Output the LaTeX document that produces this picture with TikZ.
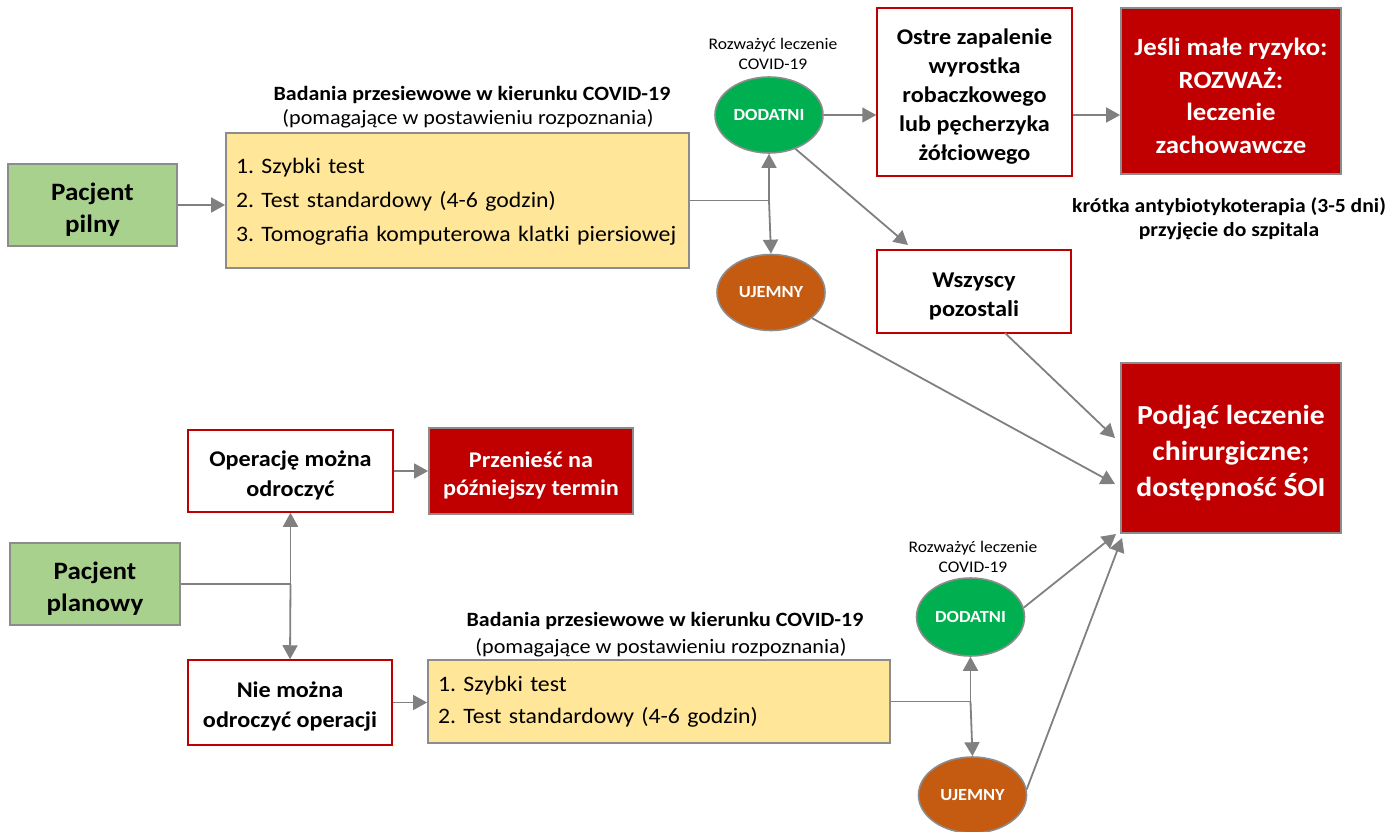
\documentclass[tikz,border=0pt]{standalone}
\usepackage{fontspec}
\setmainfont{Carlito}[FakeStretch=1.08]
\usetikzlibrary{arrows.meta,shapes.geometric,calc}
\definecolor{pgreen}{HTML}{A9D18E}
\definecolor{pyellow}{HTML}{FFE699}
\definecolor{pred}{HTML}{C00000}
\definecolor{pgray}{HTML}{8C8C8C}
\definecolor{agray}{HTML}{808080}
\definecolor{cgreen}{HTML}{00B050}
\definecolor{corange}{HTML}{C55A11}
\newcommand{\fs}[2]{\fontsize{#1}{#2}\selectfont}
\newcommand{\ts}{\rule{0pt}{1.1em}}
\tikzset{
  box/.style={draw=pgray, line width=1.8pt, inner sep=0pt, align=center},
  gbox/.style={box, fill=pgreen, font=\bfseries\fs{25}{32}},
  ybox/.style={box, fill=pyellow, align=left, font=\fs{22}{34}},
  rbox/.style={box, draw=pred, fill=white, line width=1.5pt, font=\bfseries\fs{22.4}{30}},
  dbox/.style={box, fill=pred, text=white, font=\bfseries\fs{24.8}{32.5}},
  oval/.style={ellipse, draw=pgray, line width=1.6pt, inner sep=0pt, minimum width=108pt, minimum height=76pt, text=white, font=\bfseries\fs{17}{20}},
  arr/.style={draw=agray, line width=1.8pt, -{Triangle[length=14pt,width=15pt]}},
  ln/.style={draw=agray, line width=1.8pt},
  lbl/.style={align=center, inner sep=0pt},
  head/.style={lbl, font=\bfseries\fs{20.3}{24}},
  sub/.style={lbl, font=\fs{20.5}{24}},
  small/.style={lbl, font=\fs{16.2}{20}},
}
\begin{document}
\frenchspacing
\begin{tikzpicture}[x=1pt,y=-1pt]
\useasboundingbox (0,0) rectangle (1392,832);
% top part
\node[gbox, minimum width=169pt, minimum height=82pt] (pilny) at (92.5,205) {\ts Pacjent\\pilny};
\node[ybox, minimum width=463pt, minimum height=135pt, text width=443pt] (y1) at (457.5,200.5) {\rule{0pt}{0.85em}1. Szybki test\\2. Test standardowy (4-6 godzin)\\3. Tomografia komputerowa klatki piersiowej};
\node[head] (h1) at (472,95) {Badania przesiewowe w kierunku COVID-19};
\node[sub] (s1) at (468,119) {(pomagające w postawieniu rozpoznania)};
\node[oval, fill=cgreen] (dod1) at (769,115) {DODATNI};
\node[oval, fill=corange] (uje1) at (771,292.5) {UJEMNY};
\node[small] (rz1) at (773,54) {Rozważyć leczenie\\COVID-19};
\node[rbox, minimum width=195pt, minimum height=168pt, font=\bfseries\fs{22.4}{29}] (ostre) at (974.5,92) {\ts Ostre zapalenie\\wyrostka\\robaczkowego\\lub pęcherzyka\\żółciowego};
\node[dbox, minimum width=220pt, minimum height=166pt] (jesli) at (1231,91) {\ts Jeśli małe ryzyko:\\ROZWAŻ:\\leczenie\\zachowawcze};
\node[lbl, font=\bfseries\fs{20}{24}] (kr) at (1229,219) {krótka antybiotykoterapia (3-5 dni)\\przyjęcie do szpitala};
\node[rbox, minimum width=194pt, minimum height=83pt, font=\bfseries\fs{22.6}{29}] (wsz) at (974,291.5) {\ts Wszyscy\\pozostali};
\node[dbox, minimum width=220pt, minimum height=170pt, font=\bfseries\fs{27.5}{36}] (pod) at (1231,448) {\ts Podjąć leczenie\\chirurgiczne;\\dostępność ŚOI};
% top connectors
\draw[arr] (pilny.east) -- (y1.west |- pilny.east);
\coordinate (j1) at (y1.east -| dod1.south);
\draw[ln] (y1.east) -- (j1);
\draw[arr] (j1) -- (dod1.south);
\draw[arr] (j1) -- (uje1.north);
\draw[arr] (dod1.east) -- (ostre.west |- dod1.east);
\draw[arr] (ostre.east |- dod1.east) -- (jesli.west |- dod1.east);
\coordinate (wszin) at (908,245);
\draw[arr] (dod1.-52) -- (wszin);
\coordinate (wszout) at (1005,333);
\coordinate (podin1) at (1115,438);
\coordinate (podin2) at (1115,484);
\draw[arr] (wszout) -- (podin1);
\draw[arr] (uje1.-32) -- (podin2);
% bottom part
\node[rbox, minimum width=205pt, minimum height=82pt] (oper) at (290.5,471) {\ts Operację można\\odroczyć};
\node[dbox, minimum width=204pt, minimum height=86pt, font=\bfseries\fs{22.4}{28}] (prz) at (531,471) {\ts Przenieść na\\późniejszy termin};
\node[gbox, minimum width=170pt, minimum height=82pt] (plan) at (95,584) {\ts Pacjent\\planowy};
\node[rbox, minimum width=204pt, minimum height=85pt] (nie) at (290,702.5) {\ts Nie można\\odroczyć operacji};
\node[ybox, minimum width=462pt, minimum height=83pt, text width=442pt, font=\fs{22}{32}] (y2) at (659,701.5) {1. Szybki test\\2. Test standardowy (4-6 godzin)};
\node[head] (h2) at (665,621) {Badania przesiewowe w kierunku COVID-19};
\node[sub] (s2) at (661,648) {(pomagające w postawieniu rozpoznania)};
\node[oval, fill=cgreen, minimum height=78pt] (dod2) at (970.5,617) {DODATNI};
\node[oval, fill=corange] (uje2) at (972.5,795) {UJEMNY};
\node[small] (rz2) at (973,557) {Rozważyć leczenie\\COVID-19};
% bottom connectors
\coordinate (j2) at (oper.south |- plan.east);
\draw[ln] (plan.east) -- (j2);
\draw[arr] (j2) -- (oper.south);
\draw[arr] (j2) -- (nie.north);
\draw[arr] (oper.east) -- (prz.west |- oper.east);
\draw[arr] (nie.east) -- (y2.west |- nie.east);
\coordinate (j3) at (y2.east -| dod2.south);
\draw[ln] (y2.east) -- (j3);
\draw[arr] (j3) -- (dod2.south);
\draw[arr] (j3) -- (uje2.north);
\coordinate (podin3) at (1116,534);
\coordinate (podin4) at (1122,538);
\draw[arr] (dod2.10) -- (podin3);
\draw[arr] (uje2.6) -- (podin4);
\end{tikzpicture}
\end{document}
